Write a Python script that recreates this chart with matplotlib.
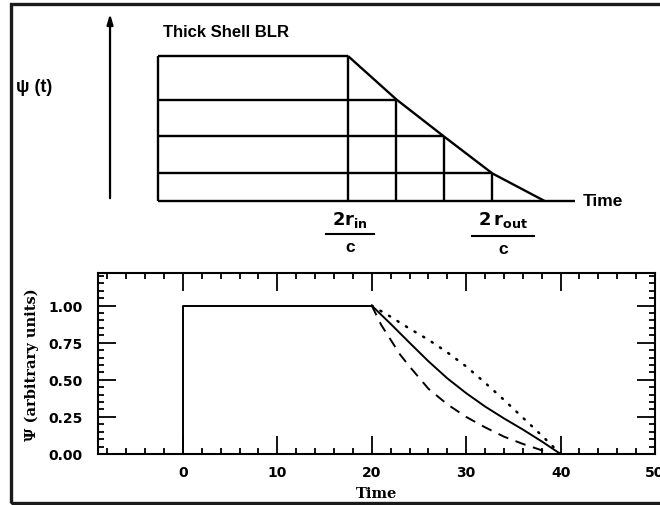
import numpy as np
import matplotlib.pyplot as plt
from matplotlib.patches import Rectangle
from matplotlib.ticker import MultipleLocator

# --- schematic: thick shell BLR transfer function (top) ---
shell_t = [20.0, 25.1, 30.1, 35.2]      # delays of the shell slices
shell_level = [1.0, 0.70, 0.445, 0.19]  # response height at each slice
t_end = 40.7                             # where the response reaches zero
t_axis_end = 43.9
t_out_label = 36.3

# --- computed transfer functions (bottom) ---
step_t = [0, 0, 20]
step_psi = [0, 1.0, 1.0]

solid_t = [20, 22, 24, 26, 28, 30, 32, 34, 36, 38, 40]
solid_psi = [1.0, 0.877, 0.75, 0.625, 0.51, 0.41, 0.32, 0.24, 0.165, 0.085, 0.0]

dotted_t = [20, 22, 24, 26, 28, 30, 32, 34, 36, 38, 40]
dotted_psi = [1.0, 0.925, 0.845, 0.77, 0.685, 0.59, 0.48, 0.365, 0.245, 0.125, 0.0]

dashed_t = [20, 21, 22, 23, 24, 26, 28, 30, 32, 34, 36, 38, 39]
dashed_psi = [1.0, 0.87, 0.77, 0.67, 0.59, 0.44, 0.335, 0.25, 0.18, 0.117, 0.068, 0.025, 0.0]

W, H = 660, 506
fig = plt.figure(figsize=(W / 100, H / 100), dpi=100)

# top sketch lives on a full-figure axes scaled in sketch units
top = fig.add_axes([0, 0, 1, 1])
top.axis('off')
px_per_t, px_per_v = 9.5, 145.0
x0, y0 = 158.0, 202.0
top.set_xlim(-x0 / px_per_t, (W - x0) / px_per_t)
top.set_ylim(-(H - y0) / px_per_v, y0 / px_per_v)

lw_s = 1.7
k = dict(color='black', lw=lw_s, solid_capstyle='butt')
# box outline and rows
top.plot([0, 0], [0, shell_level[0]], **k)
top.plot([0, t_axis_end], [0, 0], **k)
for t, v in zip(shell_t, shell_level):
    top.plot([0, t], [v, v], **k)
    top.plot([t, t], [0, v], **k)
top.plot(shell_t + [t_end], shell_level + [0], **k)

# vertical psi axis arrow
top.annotate('', xy=(-5.05, 1.31), xytext=(-5.05, 0),
             arrowprops=dict(arrowstyle='-|>,head_length=0.6,head_width=0.18',
                             color='black', lw=1.6))

bold_sans = dict(family='Liberation Sans', weight='bold', color='black')
top.text(0.5, 1.166, 'Thick Shell BLR', fontsize=12, va='center', ha='left', **bold_sans)
top.text(-14.9, 0.79, 'ψ (t)', fontsize=13, va='center', ha='left', **bold_sans)
top.text(44.7, 0.0, 'Time', fontsize=12.5, va='center', ha='left', **bold_sans)

def fraction(xc, half, num, v_num, v_bar, v_den):
    top.text(xc, v_num, num, fontsize=13, ha='center', va='center', **bold_sans)
    top.plot([xc - half, xc + half], [v_bar, v_bar], color='black', lw=1.5)
    top.text(xc, v_den, 'c', fontsize=12.5, ha='center', va='center', **bold_sans)

fraction(shell_t[0] + 0.2, 2.5, r'$\mathbf{2r_{in}}$', -0.124, -0.228, -0.317)
fraction(t_out_label, 3.3, r'$\mathbf{2\,r_{out}}$', -0.124, -0.24, -0.33)

# --- lower panel ---
ax = fig.add_axes([98 / W, (H - 455) / H, (655 - 98) / W, (455 - 274) / H])
ax.set_facecolor('none')
lw = 1.4
ax.plot(step_t, step_psi, color='black', lw=lw)
ax.plot(solid_t, solid_psi, color='black', lw=lw)
ax.plot(dotted_t, dotted_psi, color='black', lw=1.8, linestyle=(0, (0.5, 3.5)),
        dash_capstyle='round')
ax.plot(dashed_t, dashed_psi, color='black', lw=lw, linestyle=(0, (5.5, 4)))

ax.set_xlim(-9, 50)
ax.set_ylim(0, 1.22)
ax.xaxis.set_major_locator(MultipleLocator(10))
ax.xaxis.set_minor_locator(MultipleLocator(2))
ax.yaxis.set_major_locator(MultipleLocator(0.25))
ax.yaxis.set_minor_locator(MultipleLocator(0.05))
ax.yaxis.set_major_formatter(plt.FormatStrFormatter('%.2f'))
ax.tick_params(which='both', direction='in', top=True, right=True, width=1.3)
ax.tick_params(which='major', length=13)
ax.tick_params(which='minor', length=4)
ax.tick_params(axis='y', pad=11)
ax.tick_params(axis='x', pad=8)
for lab in ax.get_xticklabels() + ax.get_yticklabels():
    lab.set_family('DejaVu Sans')
    lab.set_weight('bold')
    lab.set_fontsize(10)
for s in ax.spines.values():
    s.set_linewidth(1.5)

ax.set_xlabel('Time', family='DejaVu Serif', weight='bold', fontsize=10.5, labelpad=5)
ax.set_ylabel('Ψ (arbitrary units)', family='DejaVu Serif', weight='bold',
              fontsize=10.5, labelpad=7)

# outer frame
fig.add_artist(Rectangle((11 / W, 1 - 504 / H), 1.2, (504 - 5) / H,
                         transform=fig.transFigure, fill=False,
                         edgecolor='#1a1a1a', lw=2.4))

fig.savefig('out.png', dpi=100)
